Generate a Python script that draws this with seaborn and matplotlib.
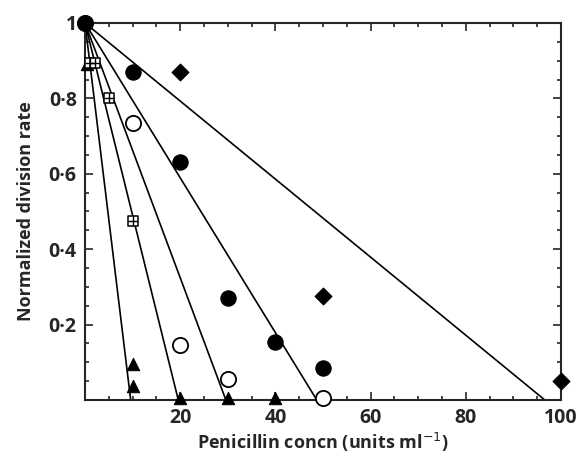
import numpy as np
import pandas as pd
import seaborn as sns
import matplotlib.pyplot as plt
from matplotlib.ticker import MultipleLocator, FixedLocator, FixedFormatter

# Data
filled_x = [0, 10, 20, 30, 40, 50]
filled_y = [1.0, 0.87, 0.63, 0.27, 0.155, 0.085]
diamond_x = [20, 50, 100]
diamond_y = [0.87, 0.275, 0.05]
open_x = [0, 10, 20, 30, 50]
open_y = [1.0, 0.735, 0.145, 0.055, 0.005]
square_x = [1.0, 2.0, 5.0, 10.0]
square_y = [0.895, 0.895, 0.80, 0.475]
triangle_x = [0.4, 10, 10, 20, 30, 40]
triangle_y = [0.89, 0.095, 0.037, 0.005, 0.005, 0.005]

# straight lines from (0, 1) down to these x-intercepts
intercepts = [9.6, 19.6, 29.6, 48.7, 96.6]

x_ticks = [20, 40, 60, 80, 100]
y_ticks = [0.2, 0.4, 0.6, 0.8, 1.0]
y_labels = ["0·2", "0·4", "0·6", "0·8", "1"]

sns.set_style("ticks")
plt.rcParams['font.family'] = ['Open Sans', 'DejaVu Sans']

fig = plt.figure(figsize=(5.81, 4.57), dpi=100)
ax = fig.add_axes([0.1463, 0.1247, 0.8193, 0.825])

lines = pd.DataFrame({
    "x": np.ravel([[0, c] for c in intercepts]),
    "y": np.ravel([[1, 0] for c in intercepts]),
    "fit": np.repeat(range(len(intercepts)), 2),
})
sns.lineplot(data=lines, x="x", y="y", units="fit", estimator=None,
             color="black", lw=1.2, ax=ax, legend=False)

sns.scatterplot(x=diamond_x, y=diamond_y, marker="D", s=75, color="black",
                edgecolor="black", ax=ax, zorder=4, clip_on=False)
sns.scatterplot(x=triangle_x, y=triangle_y, marker="^", s=80, color="black",
                edgecolor="black", ax=ax, zorder=4, clip_on=False)
sns.scatterplot(x=open_x, y=open_y, marker="o", s=120, facecolor="white",
                edgecolor="black", linewidth=1.3, ax=ax, zorder=5, clip_on=False)
sns.scatterplot(x=filled_x, y=filled_y, marker="o", s=120, color="black",
                edgecolor="black", ax=ax, zorder=6, clip_on=False)
sns.scatterplot(x=square_x, y=square_y, marker="s", s=55, facecolor="white",
                edgecolor="black", linewidth=1.1, ax=ax, zorder=7, clip_on=False)
sns.scatterplot(x=square_x, y=square_y, marker="+", s=55, color="black",
                linewidth=1.0, ax=ax, zorder=8, clip_on=False)

ax.set_xlim(0, 100)
ax.set_ylim(0, 1)
ax.xaxis.set_major_locator(FixedLocator(x_ticks))
ax.xaxis.set_minor_locator(MultipleLocator(5))
ax.yaxis.set_major_locator(FixedLocator(y_ticks))
ax.yaxis.set_major_formatter(FixedFormatter(y_labels))
ax.yaxis.set_minor_locator(MultipleLocator(0.05))
ax.tick_params(which="both", direction="in", top=True, right=True,
               width=1.2, labelsize=14, pad=6)
ax.tick_params(which="major", length=6)
ax.tick_params(which="minor", length=3)
for lab in ax.get_xticklabels() + ax.get_yticklabels():
    lab.set_fontweight("bold")
for sp in ax.spines.values():
    sp.set_linewidth(1.5)

ax.set_xlabel("Penicillin concn (units ml$^{-1}$)", fontsize=13,
              fontweight="bold", labelpad=2)
ax.set_ylabel("Normalized division rate", fontsize=13,
              fontweight="bold", labelpad=10)

fig.savefig("out.png", dpi=100)
